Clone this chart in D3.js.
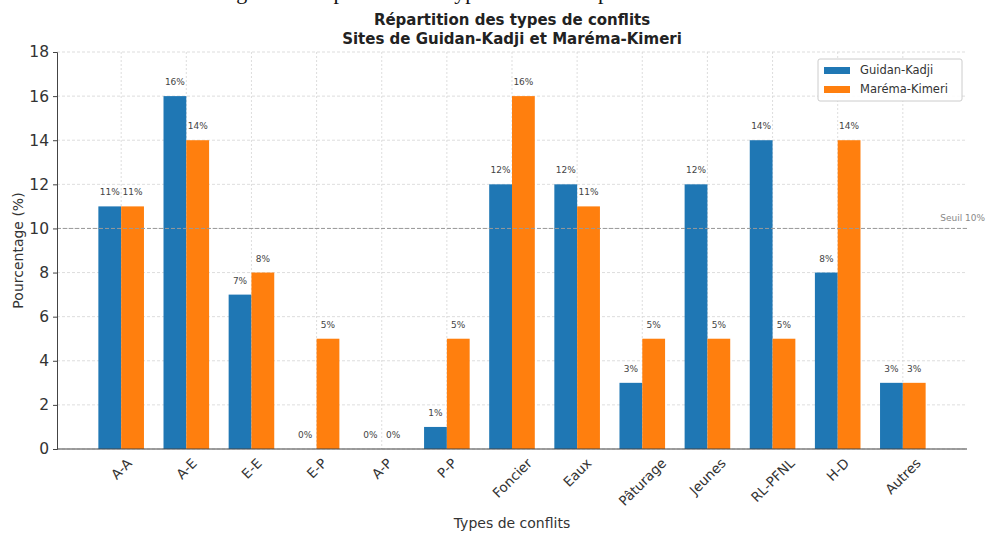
<!DOCTYPE html>
<meta charset="utf-8">
<style>
body { margin: 0; background: #fff; }
text { font-family: "DejaVu Sans", sans-serif; }
.grid line { stroke: #d4d4d4; stroke-width: 0.8px; }
</style>
<svg width="986" height="534"></svg>
<script src="https://d3js.org/d3.v7.min.js"></script>
<script>

var categories = ["A-A", "A-E", "E-E", "E-P", "A-P", "P-P", "Foncier", "Eaux", "Pâturage", "Jeunes", "RL-PFNL", "H-D", "Autres"];
var guidanKadji = [11, 16, 7, 0, 0, 1, 12, 12, 3, 12, 14, 8, 3];
var maremaKimeri = [11, 14, 8, 5, 0, 5, 16, 11, 5, 5, 5, 14, 3];
var seriesNames = ["Guidan-Kadji", "Maréma-Kimeri"];
var colors = ["#1f77b4", "#ff7f0e"];
var yTicks = [0, 2, 4, 6, 8, 10, 12, 14, 16, 18];
var threshold = 10;

var svg = d3.select("svg");

var plotLeft = 57, plotRight = 967, plotTop = 52, plotBottom = 449;
var barW = 0.35;

var x = d3.scaleLinear().domain([-0.985, categories.length - 1 + 0.985]).range([plotLeft, plotRight]);
var y = d3.scaleLinear().domain([0, 18]).range([plotBottom, plotTop]);

// cut-off caption line at the very top of the image
svg.append("text")
    .attr("x", 440).attr("y", -1)
    .attr("text-anchor", "middle")
    .style("font-family", "Liberation Serif, serif")
    .style("font-size", "22px")
    .attr("fill", "#111")
    .text("Figure 4 : Répartition des types de conflits par site");

// grid
var grid = svg.append("g").attr("class", "grid");
grid.selectAll(".h").data(yTicks).enter().append("line")
    .attr("x1", plotLeft).attr("x2", plotRight)
    .attr("y1", d => y(d)).attr("y2", d => y(d))
    .attr("stroke-dasharray", "3,2");
grid.selectAll(".v").data(categories).enter().append("line")
    .attr("x1", (d, i) => x(i)).attr("x2", (d, i) => x(i))
    .attr("y1", plotTop).attr("y2", plotBottom)
    .attr("stroke-dasharray", "2,2");

// bars
var series = [guidanKadji, maremaKimeri];
series.forEach(function(vals, s) {
  var off = s === 0 ? -barW : 0;
  svg.append("g").selectAll("rect").data(vals).enter().append("rect")
      .attr("x", (d, i) => x(i + off))
      .attr("width", x(barW) - x(0))
      .attr("y", d => y(d))
      .attr("height", d => y(0) - y(d))
      .attr("fill", colors[s]);
  svg.append("g").selectAll("text").data(vals).enter().append("text")
      .attr("x", (d, i) => x(i + off + barW / 2))
      .attr("y", d => y(d + 0.5))
      .attr("text-anchor", "middle")
      .style("font-size", "9px")
      .attr("fill", "#444")
      .text(d => d + "%");
});

// threshold line
svg.append("line")
    .attr("x1", plotLeft).attr("x2", plotRight)
    .attr("y1", y(threshold)).attr("y2", y(threshold))
    .attr("stroke", "#999").attr("stroke-width", 1)
    .attr("stroke-dasharray", "4,2");
svg.append("text")
    .attr("x", 985).attr("y", y(threshold) - 7)
    .attr("text-anchor", "end")
    .style("font-size", "9px")
    .attr("fill", "#888")
    .text("Seuil " + threshold + "%");

// y axis
var yAxis = svg.append("g")
    .attr("transform", "translate(" + plotLeft + ",0)")
    .call(d3.axisLeft(y).tickValues(yTicks).tickSize(4).tickPadding(4));
yAxis.select(".domain").attr("stroke", "#444");
yAxis.selectAll(".tick line").attr("stroke", "#444");
yAxis.selectAll("text").style("font-size", "15.5px").style("font-family", "DejaVu Sans").attr("fill", "#333");

// x axis
svg.append("line")
    .attr("x1", plotLeft).attr("x2", plotRight)
    .attr("y1", plotBottom).attr("y2", plotBottom)
    .attr("stroke", "#444").attr("stroke-width", 1.2);

svg.append("g").selectAll("text").data(categories).enter().append("text")
    .attr("text-anchor", "middle")
    .attr("dominant-baseline", "central")
    .style("font-size", "13.5px")
    .attr("fill", "#333")
    .text(d => d)
    .each(function(d, i) {
      var L = this.getComputedTextLength(), h = 13;
      var half = (L + h) * Math.SQRT1_2 / 2;
      d3.select(this).attr("transform",
        "translate(" + x(i) + "," + (plotBottom + 7 + half) + ") rotate(-45)");
    });

// axis labels
svg.append("text")
    .attr("x", (plotLeft + plotRight) / 2).attr("y", 528)
    .attr("text-anchor", "middle")
    .style("font-size", "14px")
    .attr("fill", "#333")
    .text("Types de conflits");
svg.append("text")
    .attr("transform", "translate(23," + ((plotTop + plotBottom) / 2) + ") rotate(-90)")
    .attr("text-anchor", "middle")
    .style("font-size", "14px")
    .attr("fill", "#333")
    .text("Pourcentage (%)");

// title
var title = svg.append("text")
    .attr("text-anchor", "middle")
    .style("font-size", "15px")
    .style("font-weight", "bold")
    .attr("fill", "#222");
title.append("tspan").attr("x", (plotLeft + plotRight) / 2).attr("y", 25).text("Répartition des types de conflits");
title.append("tspan").attr("x", (plotLeft + plotRight) / 2).attr("y", 44).text("Sites de Guidan-Kadji et Maréma-Kimeri");

// legend
var lg = svg.append("g").attr("transform", "translate(818,59)");
lg.append("rect").attr("width", 144).attr("height", 42).attr("rx", 2)
    .attr("fill", "#fff").attr("fill-opacity", 0.9).attr("stroke", "#ccc");
seriesNames.forEach(function(n, i) {
  lg.append("rect").attr("x", 6).attr("y", 8 + i * 19).attr("width", 26).attr("height", 7).attr("fill", colors[i]);
  lg.append("text").attr("x", 42).attr("y", 15 + i * 19)
      .style("font-size", "11.5px").attr("fill", "#333").text(n);
});

</script>
